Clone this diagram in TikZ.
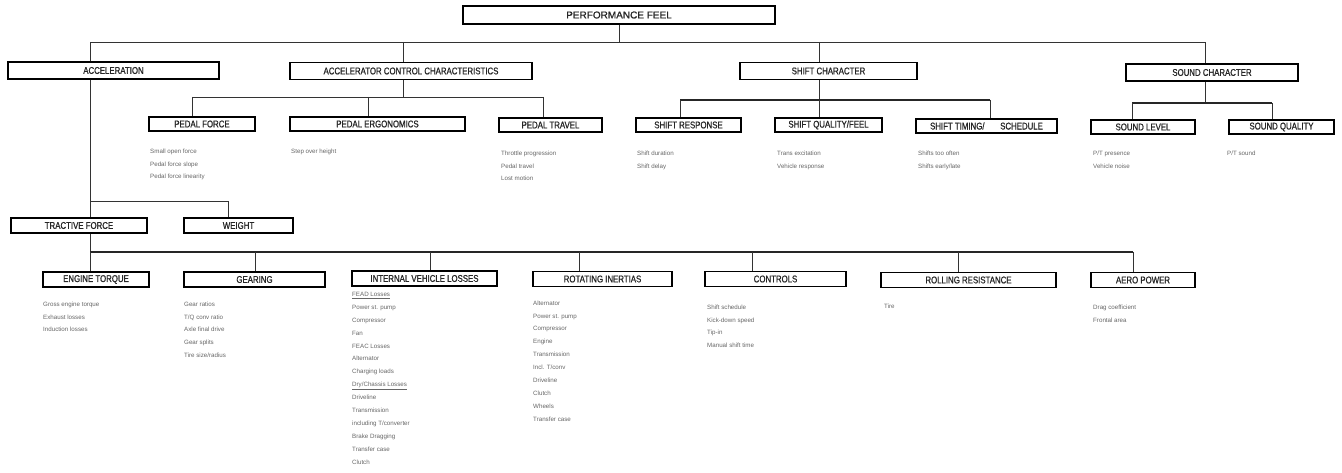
\documentclass[tikz,border=0pt]{standalone}
\usepackage{fontspec}
\setmainfont{Liberation Sans}
\newfontfamily\labelfont[FakeStretch=0.8,FakeBold=0.9]{Liberation Sans}
\newfontfamily\titlefont[FakeBold=0.9]{Liberation Sans}
\begin{document}
\begin{tikzpicture}[x=1pt,y=-1pt,
  box/.style={draw=black, line width=1.2pt, fill=white, inner sep=0pt,
    font=\labelfont\fontsize{9.8}{10}\selectfont, text=black!85},
  wire/.style={line width=0.8pt, draw=black!80},
  bus/.style={line width=2.2pt, draw=black!85},
  items/.style={anchor=north west, inner sep=0pt, align=left,
    font=\fontsize{6.2}{12.9}\selectfont, text=black!60}]
\useasboundingbox (0,0) rectangle (1342,473);

% ---- root
\node[box, font=\titlefont\fontsize{10}{10}\selectfont, minimum width=312pt, minimum height=18pt] (pf) at (619,15) {PERFORMANCE FEEL};

% ---- first level
\node[box, minimum width=211pt, minimum height=17pt] (acc) at (113.5,70.5) {ACCELERATION};
\node[box, minimum width=242pt, minimum height=17pt] (ctl) at (411,71) {ACCELERATOR CONTROL CHARACTERISTICS};
\node[box, minimum width=177pt, minimum height=17pt] (shc) at (828.5,71) {SHIFT CHARACTER};
\node[box, minimum width=172pt, minimum height=17pt] (snd) at (1212,72.5) {SOUND CHARACTER};

% ---- second level
\node[box, minimum width=106pt, minimum height=14pt] (pfo) at (202,124) {PEDAL FORCE};
\node[box, minimum width=175pt, minimum height=14pt] (per) at (377.5,124) {PEDAL ERGONOMICS};
\node[box, minimum width=103pt, minimum height=14pt] (ptr) at (550.5,125) {PEDAL TRAVEL};
\node[box, minimum width=105pt, minimum height=14pt] (srs) at (688.5,125) {SHIFT RESPONSE};
\node[box, minimum width=107pt, minimum height=14pt] (sql) at (828.5,125) {SHIFT QUALITY/FEEL};
\node[box, minimum width=141pt, minimum height=14pt] (stm) at (986.5,126) {SHIFT TIMING/\hspace{1.6em}SCHEDULE};
\node[box, minimum width=104pt, minimum height=14pt] (slv) at (1143,127) {SOUND LEVEL};
\node[box, minimum width=105pt, minimum height=14pt] (squ) at (1281.5,127) {SOUND QUALITY};

% ---- acceleration breakdown
\node[box, minimum width=136pt, minimum height=15pt] (tf) at (79,225.5) {TRACTIVE FORCE};
\node[box, minimum width=109pt, minimum height=15pt] (wt) at (238.5,225.5) {WEIGHT};

\node[box, minimum width=106pt, minimum height=15pt] (et) at (96,279.5) {ENGINE TORQUE};
\node[box, minimum width=141pt, minimum height=15pt] (gr) at (254.5,279.5) {GEARING};
\node[box, minimum width=145pt, minimum height=15pt] (ivl) at (424.5,278.5) {INTERNAL VEHICLE LOSSES};
\node[box, minimum width=139pt, minimum height=15pt] (ri) at (602.5,279) {ROTATING INERTIAS};
\node[box, minimum width=141pt, minimum height=15pt] (cn) at (775.5,279) {CONTROLS};
\node[box, minimum width=175pt, minimum height=15pt] (rr) at (968.5,280) {ROLLING RESISTANCE};
\node[box, minimum width=104pt, minimum height=15pt] (ap) at (1143,280) {AERO POWER};

% ---- top tree
\coordinate (t0) at (90,42);
\coordinate (t1) at (1205,42);
\draw[wire] (pf.south) -- (pf.south |- t0);
\draw[wire] (acc.north -| t0) -- (t0) -- (t1) -- (t1 |- snd.north);
\foreach \n/\x in {ctl/403, shc/819}{
  \coordinate (d) at (\x,42);
  \draw[wire] (d) -- (d |- \n.north);
}

% accelerator control branch
\coordinate (c0) at (192,97);
\coordinate (c1) at (543,97);
\coordinate (cm) at (403,97);
\draw[wire] (ctl.south -| cm) -- (cm);
\draw[wire] (c0) -- (c1);
\foreach \n/\x in {pfo/192, per/368, ptr/543}{
  \coordinate (d) at (\x,97);
  \draw[wire] (d) -- (d |- \n.north);
}

% shift character branch
\coordinate (s0) at (680,100);
\coordinate (s1) at (990,100);
\coordinate (sm) at (819,100);
\draw[wire] (shc.south -| sm) -- (sm);
\draw[bus] (s0) -- (s1);
\foreach \n/\x in {srs/680, sql/819, stm/990}{
  \coordinate (d) at (\x,100);
  \draw[wire] (d) -- (d |- \n.north);
}

% sound character branch
\coordinate (n0) at (1132,103);
\coordinate (n1) at (1272,103);
\coordinate (nm) at (1205,103);
\draw[wire] (snd.south -| nm) -- (nm);
\draw[bus] (n0) -- (n1);
\foreach \n/\x in {slv/1132, squ/1272}{
  \coordinate (d) at (\x,103);
  \draw[wire] (d) -- (d |- \n.north);
}

% acceleration branch
\coordinate (a1) at (90,201);
\coordinate (a2) at (228,201);
\draw[wire] (acc.south -| a1) -- (tf.north -| a1);
\draw[wire] (a1) -- (a2) -- (a2 |- wt.north);

% tractive force branch
\coordinate (b0) at (90,252);
\coordinate (b1) at (1133,252);
\draw[wire] (tf.south -| b0) -- (b0);
\draw[bus] (b0) -- (b1);
\foreach \n/\x in {et/90, gr/255, ivl/430, ri/579, cn/752, rr/958, ap/1133}{
  \coordinate (d) at (\x,252);
  \draw[wire] (d) -- (d |- \n.north);
}

% ---- item lists
\node[items] (lpfo) at (150,148.5) {Small open force\\Pedal force slope\\Pedal force linearity};
\node[items] (lper) at (291,148.5) {Step over height};
\node[items] (lptr) at (501,150.5) {Throttle progression\\Pedal travel\\Lost motion};
\node[items] (lsrs) at (637,150.5) {Shift duration\\Shift delay};
\node[items] (lsql) at (777,150.5) {Trans excitation\\Vehicle response};
\node[items] (lstm) at (918,150.5) {Shifts too often\\Shifts early/late};
\node[items] (lslv) at (1093,150.5) {P/T presence\\Vehicle noise};
\node[items] (lsqu) at (1227,150.5) {P/T sound};

\node[items] (let) at (43,301.5) {Gross engine torque\\Exhaust losses\\Induction losses};
\node[items] (lgr) at (184,301.5) {Gear ratios\\T/Q conv ratio\\Axle final drive\\Gear splits\\Tire size/radius};
\node[items] (livl) at (352,292) {\underline{FEAD Losses}\\Power st. pump\\Compressor\\Fan\\FEAC Losses\\Alternator\\Charging loads\\\underline{Dry/Chassis Losses}\\Driveline\\Transmission\\including T/converter\\Brake Dragging\\Transfer case\\Clutch};
\node[items] (lri) at (533,300.5) {Alternator\\Power st. pump\\Compressor\\Engine\\Transmission\\Incl. T/conv\\Driveline\\Clutch\\Wheels\\Transfer case};
\node[items] (lcn) at (707,304.5) {Shift schedule\\Kick-down speed\\Tip-in\\Manual shift time};
\node[items] (lrr) at (884,303.5) {Tire};
\node[items] (lap) at (1093,304.5) {Drag coefficient\\Frontal area};
\end{tikzpicture}
\end{document}
